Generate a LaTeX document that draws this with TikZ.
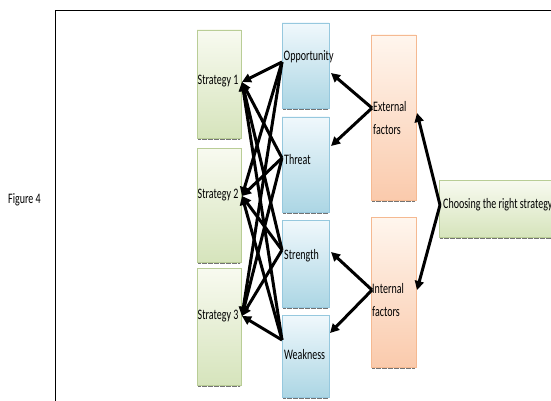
\documentclass[tikz,border=0pt]{standalone}
\usepackage{fontspec}
\setmainfont{Carlito}[FakeStretch=0.69]
\usetikzlibrary{arrows.meta}
\definecolor{gBd}{RGB}{185,205,150}
\definecolor{gTop}{RGB}{248,250,240}
\definecolor{gBot}{RGB}{214,228,188}
\definecolor{bBd}{RGB}{150,200,222}
\definecolor{bTop}{RGB}{240,248,252}
\definecolor{bBot}{RGB}{172,214,228}
\definecolor{oBd}{RGB}{245,185,145}
\definecolor{oTop}{RGB}{255,246,238}
\definecolor{oBot}{RGB}{250,202,172}
\begin{document}
\begin{tikzpicture}[x=1pt,y=-1pt,
  gbox/.style={draw=gBd,line width=0.8pt,top color=gTop,bottom color=gBot,inner sep=0pt},
  bbox/.style={draw=bBd,line width=0.8pt,top color=bTop,bottom color=bBot,inner sep=0pt},
  obox/.style={draw=oBd,line width=0.8pt,top color=oTop,bottom color=oBot,inner sep=0pt},
  shd/.style={draw=black!55,line width=1.6pt,dash pattern=on 0.6pt off 0.6pt},
  lbl/.style={font=\fontsize{14.5}{16}\selectfont,inner sep=0pt,anchor=west,align=left},
  arr/.style={line width=3pt,-{Triangle[length=9pt,width=9pt]}}]
\useasboundingbox (0,0) rectangle (551,401);
% frame
\draw[line width=0.8pt] (55,401) -- (55,10) -- (560,10);
\node[lbl] (fig) at (8,200) {Figure 4};
% strategy boxes
\draw[gbox] (197,30) rectangle (241,138) node[pos=0.5] (s1box) {};
\draw[gbox] (197,148) rectangle (241,262) node[pos=0.5] (s2box) {};
\draw[gbox] (197,268) rectangle (241,385) node[pos=0.5] (s3box) {};
% SWOT boxes
\draw[bbox] (282,23) rectangle (329,108) node[pos=0.5] (obox) {};
\draw[bbox] (282,117) rectangle (329,212) node[pos=0.5] (tbox) {};
\draw[bbox] (282,220) rectangle (329,307) node[pos=0.5] (sbox) {};
\draw[bbox] (282,315) rectangle (329,397) node[pos=0.5] (wbox) {};
% factor boxes
\draw[obox] (371,35) rectangle (416,200) node[pos=0.5] (ebox) {};
\draw[obox] (371,217) rectangle (416,367) node[pos=0.5] (ibox) {};
% choosing
\draw[gbox] (439,180) rectangle (562,237) node[pos=0.5] (cbox) {};
% bottom shadows
\foreach \xa/\xb/\yy in {198/240/139.5,198/240/263.5,198/240/386.5,283/328/109.5,283/328/213.5,283/328/308.5,283/328/398.5,372/415/201.5,372/415/368.5,440/562/238.5}{
  \draw[shd] (\xa,\yy) -- (\xb,\yy);
}
% labels
\node[lbl] (s1) at (197.5,81) {Strategy 1};
\node[lbl] (s2) at (197.5,195) {Strategy 2};
\node[lbl] (s3) at (197.5,316) {Strategy 3};
\node[lbl] (op) at (283.5,57) {Opportunity};
\node[lbl] (th) at (284,160) {Threat};
\node[lbl] (st) at (284,256) {Strength};
\node[lbl] (we) at (284,355) {Weakness};
\node[lbl,font=\fontsize{14.5}{23}\selectfont] (ex) at (373,118) {External\\factors};
\node[lbl,font=\fontsize{14.5}{23}\selectfont] (in) at (372,300) {Internal\\factors};
\node[lbl] (ch) at (443,205) {Choosing the right strategy};
% connector points
\coordinate (S1) at (242,82);
\coordinate (S2) at (242,196);
\coordinate (S3) at (242,316);
\coordinate (O) at (282,62);
\coordinate (T) at (282,158);
\coordinate (St) at (282,250);
\coordinate (W) at (282,340);
\coordinate (Oin) at (331,73);
\coordinate (Tin) at (331,146);
\coordinate (Sin) at (331,252);
\coordinate (Win) at (330,333);
\coordinate (E) at (372,108);
\coordinate (I) at (372,290);
\coordinate (Ein) at (417,113);
\coordinate (Iin) at (417,290);
\coordinate (C) at (440,205);
% SWOT to strategies
\foreach \a in {O,T,St,W}{
  \foreach \b in {S1,S2,S3}{
    \draw[arr] (\a) -- (\b);
  }
}
% factors to SWOT
\draw[arr] (E) -- (Oin);
\draw[arr] (E) -- (Tin);
\draw[arr] (I) -- (Sin);
\draw[arr] (I) -- (Win);
% choosing to factors
\draw[arr] (C) -- (Ein);
\draw[arr] (C) -- (Iin);
\end{tikzpicture}
\end{document}
